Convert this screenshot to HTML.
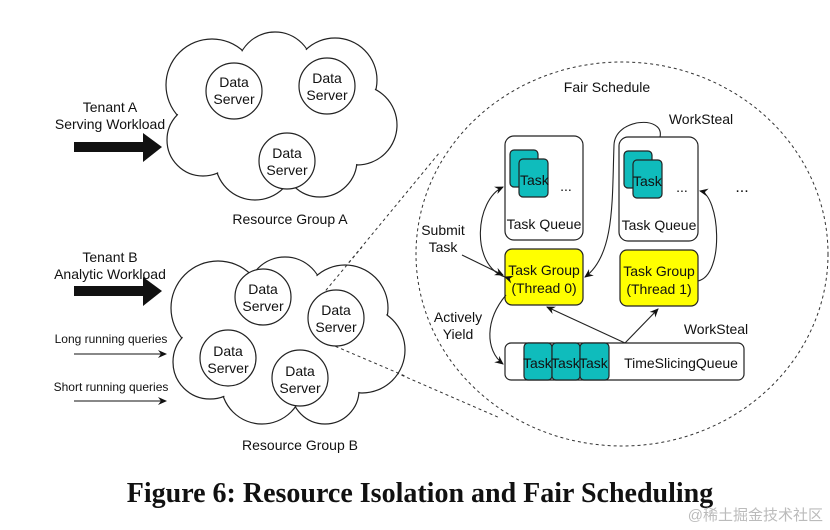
<!DOCTYPE html>
<html><head><meta charset="utf-8"><style>
html,body{margin:0;padding:0;background:#fff;}
svg{display:block;}
text{font-family:"Liberation Sans",sans-serif;fill:#111;}
</style></head><body>
<svg width="830" height="530" viewBox="0 0 830 530" xmlns="http://www.w3.org/2000/svg">
<defs>
<marker id="ah" markerWidth="10" markerHeight="10" refX="8" refY="5" orient="auto" markerUnits="userSpaceOnUse"><path d="M0,1 L9,5 L0,9 L3,5 Z" fill="#111"/></marker>
</defs>
<ellipse cx="622" cy="254" rx="206" ry="192" fill="none" stroke="#333" stroke-width="1" stroke-dasharray="3,3"/>
<line x1="322" y1="295" x2="440" y2="152" stroke="#333" stroke-dasharray="3,3"/>
<line x1="330" y1="344" x2="500" y2="418" stroke="#333" stroke-dasharray="3,3"/>

<!-- Cloud A -->
<g stroke="#222" stroke-width="1.2" fill="#fff">
<circle cx="212" cy="85" r="46"/><circle cx="275" cy="70" r="38"/><circle cx="335" cy="80" r="42"/>
<circle cx="357" cy="125" r="40"/><circle cx="320" cy="160" r="37"/><circle cx="255" cy="160" r="40"/>
<circle cx="203" cy="140" r="36"/><circle cx="275" cy="112" r="58"/>
</g>
<g fill="#fff">
<circle cx="212" cy="85" r="45"/><circle cx="275" cy="70" r="37"/><circle cx="335" cy="80" r="41"/>
<circle cx="357" cy="125" r="39"/><circle cx="320" cy="160" r="36"/><circle cx="255" cy="160" r="39"/>
<circle cx="203" cy="140" r="35"/><circle cx="275" cy="112" r="57"/>
</g>
<!-- Cloud B -->
<g stroke="#222" stroke-width="1.2" fill="#fff">
<circle cx="218" cy="308" r="47"/><circle cx="285" cy="295" r="38"/><circle cx="345" cy="308" r="43"/>
<circle cx="362" cy="350" r="43"/><circle cx="325" cy="390" r="34"/><circle cx="262" cy="383" r="41"/>
<circle cx="210" cy="362" r="37"/><circle cx="280" cy="340" r="63"/>
</g>
<g fill="#fff">
<circle cx="218" cy="308" r="46"/><circle cx="285" cy="295" r="37"/><circle cx="345" cy="308" r="42"/>
<circle cx="362" cy="350" r="42"/><circle cx="325" cy="390" r="33"/><circle cx="262" cy="383" r="40"/>
<circle cx="210" cy="362" r="36"/><circle cx="280" cy="340" r="62"/>
</g>
<line x1="322" y1="295" x2="362" y2="247" stroke="#333" stroke-dasharray="3,3"/>
<line x1="330" y1="344" x2="405" y2="376" stroke="#333" stroke-dasharray="3,3"/>

<g stroke="#222" stroke-width="1.2" fill="#fff">
<circle cx="234" cy="91" r="28"/><circle cx="327" cy="86" r="28"/><circle cx="287" cy="161" r="28"/>
<circle cx="263" cy="297" r="28"/><circle cx="336" cy="318" r="28"/><circle cx="228" cy="358" r="28"/><circle cx="300" cy="378" r="28"/>
</g>
<g font-size="14" text-anchor="middle">
<text x="234" y="87">Data</text><text x="234" y="104">Server</text>
<text x="327" y="83">Data</text><text x="327" y="100">Server</text>
<text x="287" y="158">Data</text><text x="287" y="175">Server</text>
<text x="263" y="294">Data</text><text x="263" y="311">Server</text>
<text x="336" y="315">Data</text><text x="336" y="332">Server</text>
<text x="228" y="356">Data</text><text x="228" y="373">Server</text>
<text x="300" y="376">Data</text><text x="300" y="393">Server</text>
</g>

<g font-size="14" text-anchor="middle">
<text x="110" y="112">Tenant A</text><text x="110" y="129">Serving Workload</text>
<text x="110" y="262">Tenant B</text><text x="110" y="279">Analytic Workload</text>
<text x="290" y="224">Resource Group A</text>
<text x="300" y="450">Resource Group B</text>
</g>
<path d="M74,142 H143 V133 L162,147 L143,162 V152 H74 Z" fill="#111"/>
<path d="M74,286 H143 V277 L162,291 L143,306 V296 H74 Z" fill="#111"/>
<text x="111" y="343" font-size="12" text-anchor="middle">Long running queries</text>
<text x="111" y="391" font-size="12" text-anchor="middle">Short running queries</text>
<line x1="74" y1="354" x2="166" y2="354" stroke="#111" marker-end="url(#ah)"/>
<line x1="74" y1="401" x2="166" y2="401" stroke="#111" marker-end="url(#ah)"/>

<g font-size="14">
<text x="607" y="92" text-anchor="middle">Fair Schedule</text>
<text x="701" y="124" text-anchor="middle">WorkSteal</text>
<text x="716" y="334" text-anchor="middle">WorkSteal</text>
<text x="443" y="235" text-anchor="middle">Submit</text><text x="443" y="252" text-anchor="middle">Task</text>
<text x="458" y="322" text-anchor="middle">Actively</text><text x="458" y="339" text-anchor="middle">Yield</text>
</g>
<g stroke="#222" stroke-width="1.2">
<rect x="505" y="136" width="78" height="104" rx="9" fill="#fff"/>
<rect x="619" y="137" width="79" height="104" rx="9" fill="#fff"/>
<rect x="505" y="249" width="78" height="56" rx="7" fill="#ffff00"/>
<rect x="620" y="250" width="78" height="56" rx="7" fill="#ffff00"/>
<rect x="505" y="343" width="239" height="37" rx="6" fill="#fff"/>
<rect x="510" y="150" width="28" height="37" rx="4" fill="#0fbcbc"/>
<rect x="519" y="159" width="29" height="38" rx="4" fill="#0fbcbc"/>
<rect x="624" y="151" width="28" height="37" rx="4" fill="#0fbcbc"/>
<rect x="633" y="160" width="29" height="38" rx="4" fill="#0fbcbc"/>
<rect x="524" y="343" width="28" height="37" rx="4" fill="#0fbcbc"/>
<rect x="552" y="343" width="28" height="37" rx="4" fill="#0fbcbc"/>
<rect x="580" y="343" width="29" height="37" rx="4" fill="#0fbcbc"/>
</g>
<g font-size="14">
<text x="520" y="185">Task</text><text x="633" y="186">Task</text>
<text x="566" y="191" text-anchor="middle">...</text>
<text x="682" y="192" text-anchor="middle">...</text>
<text x="742" y="192" text-anchor="middle" font-size="16">...</text>
<text x="544" y="229" text-anchor="middle">Task Queue</text>
<text x="659" y="230" text-anchor="middle">Task Queue</text>
<text x="544" y="275" text-anchor="middle">Task Group</text><text x="544" y="293" text-anchor="middle">(Thread 0)</text>
<text x="659" y="276" text-anchor="middle">Task Group</text><text x="659" y="294" text-anchor="middle">(Thread 1)</text>
<text x="523" y="368">Task</text><text x="551" y="368">Task</text><text x="579" y="368">Task</text>
<text x="681" y="368" text-anchor="middle">TimeSlicingQueue</text>
</g>
<g fill="none" stroke="#222" stroke-width="1.1">
<path d="M505,277 C470,265 475,200 503,187" marker-end="url(#ah)" marker-start="url(#ah)"/>
<path d="M462,255 L503,275" marker-end="url(#ah)"/>
<path d="M506,295 C485,320 485,350 503,364" marker-end="url(#ah)"/>
<path d="M660,137 C665,115 615,118 614,145 C612,200 615,255 585,277" marker-end="url(#ah)"/>
<path d="M698,281 C725,275 720,195 700,191" marker-end="url(#ah)"/>
<path d="M625,343 L547,307" marker-end="url(#ah)"/>
<path d="M625,343 L658,309" marker-end="url(#ah)"/>
</g>

<text x="420" y="502" text-anchor="middle" font-weight="bold" font-size="28" style="font-family:'Liberation Serif',serif">Figure 6: Resource Isolation and Fair Scheduling</text>
<text x="823" y="520" text-anchor="end" font-size="15" style="fill:#bbb;font-family:'Liberation Sans','Noto Sans CJK SC',sans-serif">@稀土掘金技术社区</text>
</svg>
</body></html>
